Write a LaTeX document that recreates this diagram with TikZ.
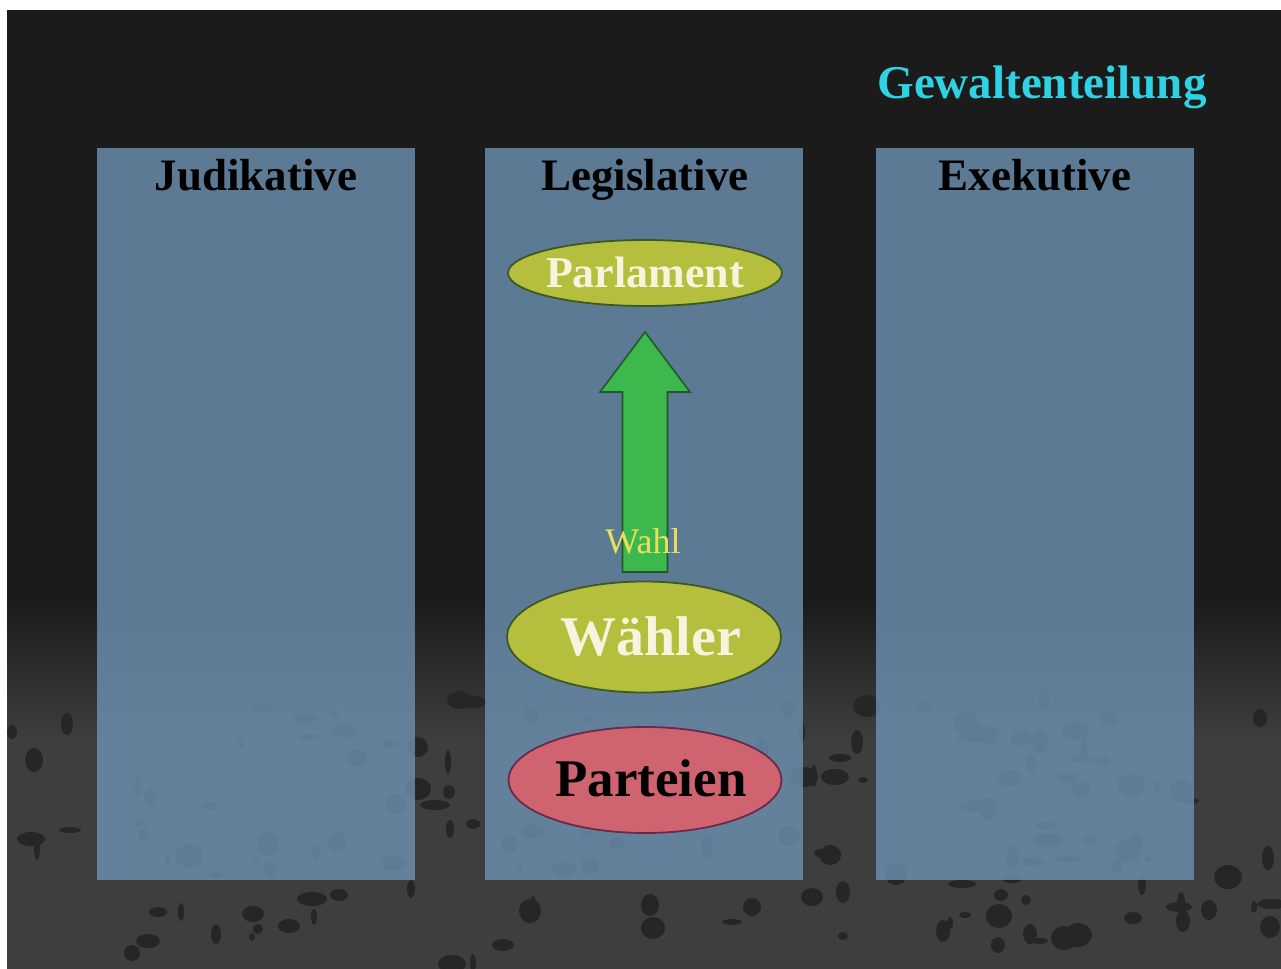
\documentclass[tikz,border=0pt]{standalone}
\usepackage{fontspec}
\setmainfont{Liberation Serif}
\usetikzlibrary{shapes.geometric}
\definecolor{bgdark}{HTML}{1B1B1B}
\definecolor{bggray}{HTML}{3E3E3E}
\definecolor{panelblue}{HTML}{6E92B4}
\definecolor{olivefill}{HTML}{B6BE3E}
\definecolor{olivedraw}{HTML}{3C5A22}
\definecolor{redfill}{HTML}{CF6470}
\definecolor{reddraw}{HTML}{6A2A4A}
\definecolor{cream}{HTML}{F6F4DC}
\definecolor{arrowgreen}{HTML}{3CB84C}
\definecolor{arrowdark}{HTML}{1F5A2A}
\definecolor{wahlyellow}{HTML}{E8E05C}
\definecolor{titlecyan}{HTML}{2FD2E2}
\tikzset{
  panel/.style={draw=none, fill=panelblue, fill opacity=0.8, minimum width=159pt, minimum height=366pt, inner sep=0pt},
  headtext/.style={font=\bfseries\fontsize{22.5}{25}\selectfont, text=black, inner sep=0pt, anchor=base},
  oval/.style={ellipse, line width=0.9pt, inner sep=0pt},
  blob/.style={fill=black!85, draw=none},
}
\begin{document}
\begin{tikzpicture}[x=0.5pt,y=-0.5pt]
\useasboundingbox (0,0) rectangle (1281,969);
% background
\fill[white] (0,0) rectangle (1281,969);
\fill[bgdark] (7,10) rectangle (1281,969);
\shade[top color=bgdark, bottom color=bggray] (7,600) rectangle (1281,740);
\fill[bggray] (7,740) rectangle (1281,969);
% texture blobs
\pgfmathsetseed{17}
\foreach \i in {1,...,160}{
  \pgfmathsetmacro\bx{7+random(0,1270)}
  \pgfmathsetmacro\by{700+random(0,265)}
  \pgfmathsetmacro\rx{3+random(0,12)}
  \pgfmathsetmacro\ry{3+random(0,9)}
  \fill[blob] (\bx,\by) ellipse [x radius=\rx, y radius=\ry];
}
% panels
\node[panel] (jud) at (256,514) {};
\node[panel] (leg) at (643.5,514) {};
\node[panel] (exe) at (1035,514) {};
% headings
\node[headtext] (judT) at (256,190) {Judikative};
\node[headtext] (legT) at (645,190) {Legislative};
\node[headtext] (exeT) at (1035,190) {Exekutive};
\node[font=\bfseries\fontsize{23.5}{26}\selectfont, text=titlecyan, inner sep=0pt, anchor=base] (title) at (1042,98) {Gewaltenteilung};
% ellipses
\node[oval, fill=olivefill, draw=olivedraw, minimum width=137pt, minimum height=33pt] (parl) at (645,273) {};
\node[font=\bfseries\fontsize{22}{24}\selectfont, text=cream, inner sep=0pt, anchor=base] (parlT) at (645,287) {Parlament};
\node[oval, fill=olivefill, draw=olivedraw, minimum width=137pt, minimum height=55.5pt] (waehler) at (644,637) {};
\node[font=\bfseries\fontsize{28}{30}\selectfont, text=cream, inner sep=0pt, anchor=base] (waehlerT) at (651,655) {Wähler};
\node[oval, fill=redfill, draw=reddraw, minimum width=136.5pt, minimum height=53pt] (parteien) at (645,780) {};
\node[font=\bfseries\fontsize{26.5}{29}\selectfont, text=black, inner sep=0pt, anchor=base] (parteienT) at (651,796) {Parteien};
% arrow (Wahl)
\coordinate (abl) at (622.5,572);
\coordinate (abr) at (667.5,572);
\coordinate (atip) at (645,332);
\fill[arrowgreen, draw=arrowdark, line width=0.8pt]
  (abl) -- (622.5,392) -- (600,392) -- (atip) -- (690,392) -- (667.5,392) -- (abr) -- cycle;
\node[font=\fontsize{18}{20}\selectfont, text=wahlyellow, inner sep=0pt, anchor=base] (wahl) at (643,553) {Wahl};
\end{tikzpicture}
\end{document}
